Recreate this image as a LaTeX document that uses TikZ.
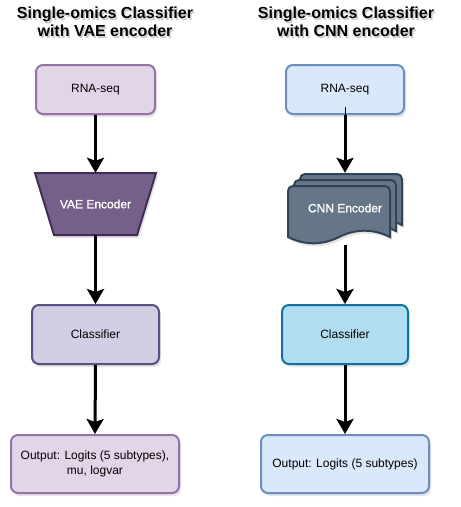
\documentclass[tikz,border=0pt]{standalone}
\usepackage{fontspec}
\setmainfont{Liberation Sans}
\newfontfamily\heavysans[FakeBold=1.3]{Liberation Sans}
\usetikzlibrary{arrows.meta,shadows}
\definecolor{purpleLf}{HTML}{E1D5E7}
\definecolor{purpleLd}{HTML}{9673A6}
\definecolor{vaeF}{HTML}{76608A}
\definecolor{vaeD}{HTML}{432D57}
\definecolor{clsLf}{HTML}{D0CEE2}
\definecolor{clsLd}{HTML}{56517E}
\definecolor{blueLf}{HTML}{DAE8FC}
\definecolor{blueLd}{HTML}{6C8EBF}
\definecolor{cnnF}{HTML}{647687}
\definecolor{cnnD}{HTML}{314354}
\definecolor{clsRf}{HTML}{B1DDF0}
\definecolor{clsRd}{HTML}{10739E}
\newcommand\cnnpage[2]{%
  \filldraw[docstyle]
    (#1,#2+51) [rounded corners=5pt] -- (#1,#2) -- (#1+102,#2) [sharp corners] -- (#1+102,#2+51)
    .. controls (#1+85,#2+42.6) and (#1+68,#2+42.6) .. (#1+51,#2+51)
    .. controls (#1+34,#2+59.4) and (#1+17,#2+59.4) .. (#1,#2+51) -- cycle;}
\begin{document}
\begin{tikzpicture}[x=1pt,y=-1pt,
  shad/.style={drop shadow={opacity=0.22,shadow xshift=2pt,shadow yshift=-3pt}},
  box/.style={draw,line width=2pt,rounded corners=7pt,align=center,inner sep=0pt,
    font=\fontsize{12}{15}\selectfont,shad},
  ttl/.style={align=center,font=\fontsize{16}{18}\selectfont\bfseries,inner sep=0pt},
  docstyle/.style={fill=cnnF,draw=cnnD,line width=2pt,shad},
  wtext/.style={inner sep=0pt,text=white,font=\fontsize{12}{15}\selectfont\heavysans},
  conn/.style={line width=3pt,-{Stealth[length=15pt,width=17pt,inset=3pt]}}]
\useasboundingbox (0,0) rectangle (461,507);
% titles
\node[ttl,text=black!60,opacity=0.35] (t1s) at (106.5,23.5) {Single-omics Classifier\\with VAE encoder};
\node[ttl] (t1) at (105,22) {Single-omics Classifier\\with VAE encoder};
\node[ttl,text=black!60,opacity=0.35] (t2s) at (347.5,23.5) {Single-omics Classifier\\with CNN encoder};
\node[ttl] (t2) at (346,22) {Single-omics Classifier\\with CNN encoder};
% left column
\node[box,fill=purpleLf,draw=purpleLd,minimum width=119pt,minimum height=49pt] (rnaL) at (95.5,89.5) {RNA-seq};
\filldraw[fill=vaeF,draw=vaeD,line width=2pt,shad] (35,173) -- (156,173) -- (137,235) -- (54,235) -- cycle;
\node[wtext,minimum width=121pt,minimum height=62pt] (vae) at (95.5,204) {VAE Encoder};
\node[box,fill=clsLf,draw=clsLd,minimum width=127pt,minimum height=59pt] (clsL) at (95.5,334.5) {Classifier};
\node[box,fill=purpleLf,draw=purpleLd,minimum width=168pt,minimum height=58pt] (outL) at (95,464) {Output: Logits (5 subtypes),\\mu, logvar};
% right column
\node[box,fill=blueLf,draw=blueLd,minimum width=118pt,minimum height=49pt] (rnaR) at (345,89.5) {RNA-seq};
\cnnpage{300}{174}
\cnnpage{294}{180}
\cnnpage{288}{186}
\node[wtext,minimum width=114pt,minimum height=70pt] (cnn) at (345,208) {CNN Encoder};
\node[box,fill=clsRf,draw=clsRd,minimum width=126pt,minimum height=59pt] (clsR) at (345,334.5) {Classifier};
\node[box,fill=blueLf,draw=blueLd,minimum width=168pt,minimum height=58pt] (outR) at (345,464) {Output: Logits (5 subtypes)};
% connectors
\draw[conn] (rnaL.south) -- (vae.north);
\draw[conn] (vae.south) -- (clsL.north);
\draw[conn] (clsL.south) -- (outL.north);
\draw[line width=0.8pt] ([yshift=8pt]rnaR.south) -- (rnaR.south);
\draw[conn] (rnaR.south) -- (cnn.north);
\draw[conn] ([yshift=-2pt]cnn.south) -- (clsR.north);
\draw[conn] (clsR.south) -- (outR.north);
\end{tikzpicture}
\end{document}
